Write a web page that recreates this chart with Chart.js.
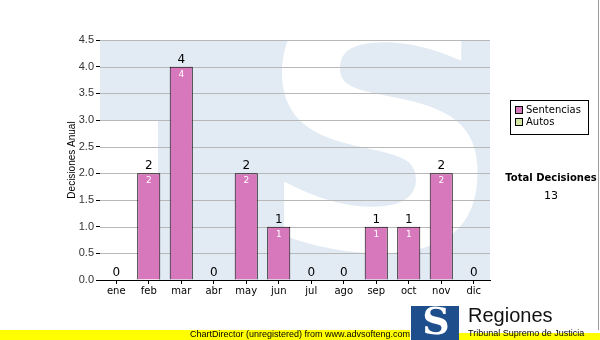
<!DOCTYPE html>
<html>
<head>
<meta charset="utf-8">
<script src="https://cdn.jsdelivr.net/npm/chart.js@4"></script>
<style>
  body { margin: 0; background: #fff; }
  #wrap { position: relative; width: 600px; height: 340px; }
</style>
</head>
<body>
<div id="wrap"><canvas id="decisionesChart" width="600" height="340"></canvas></div>
<script>
const meses = ["ene", "feb", "mar", "abr", "may", "jun", "jul", "ago", "sep", "oct", "nov", "dic"];
const sentencias = [0, 2, 4, 0, 2, 1, 0, 0, 1, 1, 2, 0];
const autos = [0, 0, 0, 0, 0, 0, 0, 0, 0, 0, 0, 0];
const yTicks = [0, 0.5, 1, 1.5, 2, 2.5, 3, 3.5, 4, 4.5];
const totalDecisiones = 13;

const colorSentencias = "#d878bc";
const colorAutos = "#d4e8a4";

// watermark logo behind the plot
const watermark = {
	id: "watermark",
	beforeDatasetsDraw(chart) {
		const { ctx, chartArea: a } = chart;
		ctx.save();
		ctx.beginPath();
		ctx.rect(a.left, a.top, a.right - a.left, a.bottom - a.top);
		ctx.clip();
		ctx.fillStyle = "#e2eaf3";
		ctx.fillRect(a.left, a.top, a.right - a.left, a.bottom - a.top);
		ctx.fillStyle = "#fff";
		ctx.fillRect(a.left, a.top + 80, 58, a.bottom - a.top);
		ctx.font = "bold 340px 'DejaVu Sans'";
		ctx.textAlign = "center";
		ctx.textBaseline = "middle";
		ctx.fillText("S", a.left + 280, a.top + 120);
		ctx.restore();
		// grid lines over watermark
		const y = chart.scales.y;
		ctx.save();
		ctx.strokeStyle = "#b8b8b8";
		ctx.lineWidth = 1;
		for (const v of yTicks) {
			if (v === 0) continue;
			const py = Math.round(y.getPixelForValue(v)) + 0.5;
			ctx.beginPath();
			ctx.moveTo(a.left, py);
			ctx.lineTo(a.right, py);
			ctx.stroke();
		}
		ctx.restore();
	},
};

const extras = {
	id: "extras",
	afterDatasetsDraw(chart) {
		const { ctx, chartArea: a } = chart;
		const meta = chart.getDatasetMeta(0);
		ctx.save();
		ctx.textAlign = "center";
		meta.data.forEach((bar, i) => {
			const total = sentencias[i] + autos[i];
			ctx.fillStyle = "#000";
			ctx.font = "12px 'DejaVu Sans'";
			ctx.textBaseline = "bottom";
			ctx.fillText(String(total), bar.x, bar.y - 1);
			if (sentencias[i] > 0) {
				ctx.fillStyle = "#fff";
				ctx.font = "9px 'DejaVu Sans'";
				ctx.textBaseline = "top";
				ctx.fillText(String(sentencias[i]), bar.x, bar.y + 3);
			}
		});
		ctx.restore();

		// y axis title
		ctx.save();
		ctx.translate(72, (a.top + a.bottom) / 2);
		ctx.rotate(-Math.PI / 2);
		ctx.fillStyle = "#000";
		ctx.font = "10px 'Liberation Sans'";
		ctx.textAlign = "center";
		ctx.textBaseline = "middle";
		ctx.fillText("Decisiones Anual", 0, 0);
		ctx.restore();

		// legend box
		ctx.save();
		ctx.strokeStyle = "#000";
		ctx.lineWidth = 1;
		ctx.strokeRect(510.5, 100.5, 78, 34);
		const items = [["Sentencias", colorSentencias], ["Autos", colorAutos]];
		items.forEach(([name, col], k) => {
			const yy = 106 + k * 12;
			ctx.fillStyle = col;
			ctx.fillRect(515, yy, 7, 7);
			ctx.strokeRect(515.5, yy + 0.5, 7, 7);
			ctx.fillStyle = "#000";
			ctx.font = "10px 'DejaVu Sans'";
			ctx.textAlign = "left";
			ctx.textBaseline = "middle";
			ctx.fillText(name, 526, yy + 4);
		});
		ctx.textAlign = "center";
		ctx.font = "bold 10px 'DejaVu Sans'";
		ctx.fillText("Total Decisiones", 551, 178);
		ctx.font = "11px 'DejaVu Sans'";
		ctx.fillText(String(totalDecisiones), 551, 196);

		// right border line
		ctx.strokeStyle = "#999";
		ctx.beginPath();
		ctx.moveTo(598.5, 0);
		ctx.lineTo(598.5, 330);
		ctx.stroke();

		// logo
		ctx.fillStyle = "#1f4e8c";
		ctx.fillRect(411, 306, 48, 34);
		ctx.fillStyle = "#fff";
		ctx.font = "bold 38px 'DejaVu Serif'";
		ctx.fillText("S", 436, 324);
		ctx.fillStyle = "#111";
		ctx.font = "20px 'Liberation Sans'";
		ctx.textAlign = "left";
		ctx.fillText("Regiones", 468, 316);

		// footer band
		ctx.fillStyle = "#ffff00";
		ctx.fillRect(0, 330, 410, 10);
		ctx.fillRect(459, 333, 141, 7);
		ctx.fillStyle = "#000";
		ctx.font = "9px 'Liberation Sans'";
		ctx.textAlign = "center";
		ctx.fillText("ChartDirector (unregistered) from www.advsofteng.com", 300, 335);
		ctx.textAlign = "left";
		ctx.fillText("Tribunal Supremo de Justicia", 468, 334);
		ctx.restore();
	},
};

new Chart(document.getElementById("decisionesChart"), {
	type: "bar",
	data: {
		labels: meses,
		datasets: [
			{
				label: "Sentencias",
				data: sentencias,
				backgroundColor: colorSentencias,
				borderColor: "#000",
				borderWidth: 1,
				borderSkipped: "bottom",
				categoryPercentage: 0.71,
				barPercentage: 1,
			},
			{
				label: "Autos",
				data: autos,
				backgroundColor: colorAutos,
				borderWidth: 0,
				categoryPercentage: 0.71,
				barPercentage: 1,
			},
		],
	},
	options: {
		responsive: false,
		animation: false,
		layout: { padding: { left: 0, right: 110, top: 40, bottom: 30 } },
		plugins: { legend: { display: false }, tooltip: { enabled: false } },
		scales: {
			x: {
				stacked: true,
				afterFit: (s) => { s.height = 30; },
				grid: { display: true, drawOnChartArea: false, offset: false, tickLength: 4, color: "#000" },
				border: { color: "#000", width: 1 },
				ticks: { color: "#000", font: { family: "DejaVu Sans", size: 10 }, padding: 1 },
			},
			y: {
				stacked: true,
				min: 0,
				max: 4.5,
				afterFit: (s) => { s.width = 100; },
				afterBuildTicks: (s) => { s.ticks = yTicks.map((v) => ({ value: v })); },
				grid: { display: true, drawOnChartArea: false, tickLength: 4, color: "#000" },
				border: { color: "#000", width: 1 },
				ticks: {
					color: "#333",
					font: { family: "Liberation Sans", size: 11 },
					padding: 2,
					callback: (v) => v.toFixed(1),
				},
			},
		},
	},
	plugins: [watermark, extras],
});
</script>
</body>
</html>
